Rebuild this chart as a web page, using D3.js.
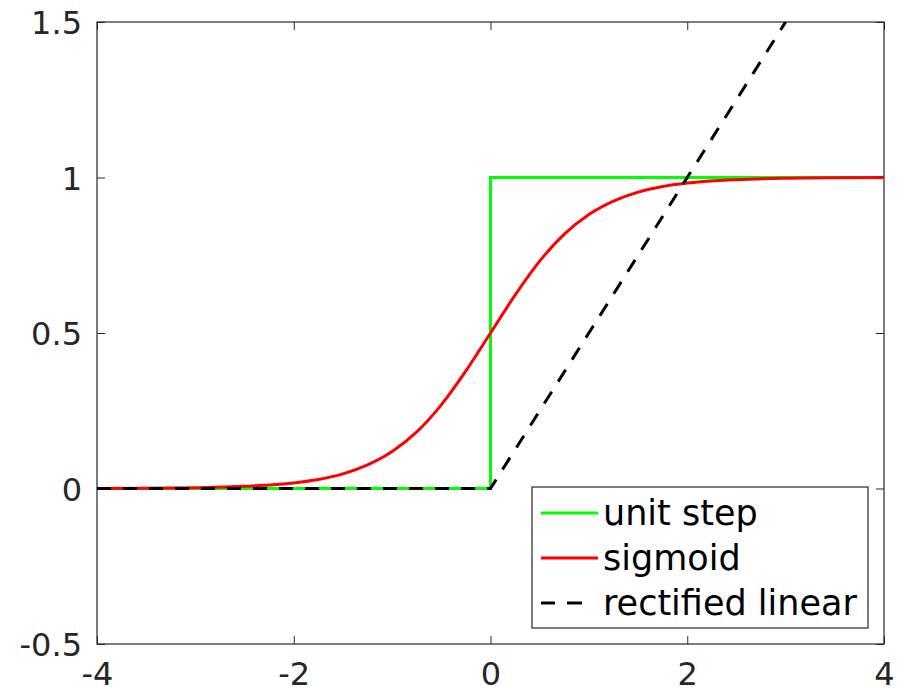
<!DOCTYPE html>
<html lang="en">
<head>
    <meta charset="UTF-8">
    <title>Activation functions</title>
    <style>
        body { margin: 0; background: #fff; }
        svg { display: block; font-family: "DejaVu Sans", sans-serif; }
        .tick text { font-size: 32px; fill: #262626; font-family: "DejaVu Sans", sans-serif; }
        .tick line { stroke: #262626; stroke-width: 1px; }
        .frame { fill: none; stroke: #262626; stroke-width: 1.2px; }
        .clsStep { stroke: #00ff00; stroke-width: 3px; fill: none; }
        .clsSigmoid { stroke: #ff0000; stroke-width: 3px; fill: none; }
        .clsRelu { stroke: #000; stroke-width: 3px; fill: none; stroke-dasharray: 14, 12; }
        .legend .clsRelu { stroke-dasharray: 14, 12, 15, 100; }
        .legend text { font-size: 35px; fill: #000; font-family: "DejaVu Sans", sans-serif; }
    </style>
    <script src="https://d3js.org/d3.v7.min.js"></script>
</head>
<body>
<div class="container"></div>
<script>
    // values
    const xTicks = [-4, -2, 0, 2, 4];
    const xTickLabels = ["-4", "-2", "0", "2", "4"];
    const yTicks = [-0.5, 0, 0.5, 1, 1.5];
    const yTickLabels = ["-0.5", "0", "0.5", "1", "1.5"];

    const stepX = [-4, 0, 0, 4];
    const stepY = [0, 0, 1, 1];

    const sigmoidX = [-4, -3.5, -3, -2.5, -2, -1.75, -1.5, -1.25, -1, -0.75, -0.5, -0.25, 0,
                      0.25, 0.5, 0.75, 1, 1.25, 1.5, 1.75, 2, 2.5, 3, 3.5, 4];
    const sigmoidY = [0.0003, 0.0009, 0.0025, 0.007, 0.018, 0.029, 0.047, 0.076, 0.119, 0.182, 0.269, 0.378, 0.5,
                      0.622, 0.731, 0.818, 0.881, 0.924, 0.953, 0.971, 0.982, 0.993, 0.9975, 0.9991, 0.9997];

    const reluX = [-4, 0, 3];
    const reluY = [0, 0, 1.5];

    const seriesNames = ["unit step", "sigmoid", "rectified linear"];
    const seriesClasses = ["clsStep", "clsSigmoid", "clsRelu"];

    const width = 900, height = 688;
    const margin = {top: 22, right: 16, bottom: 44, left: 97};

    const svg = d3.select(".container")
        .append("svg")
        .attr("width", width)
        .attr("height", height);

    const x = d3.scaleLinear()
        .domain([-4, 4])
        .range([margin.left, width - margin.right]);

    const y = d3.scaleLinear()
        .domain([-0.5, 1.5])
        .range([height - margin.bottom, margin.top]);

    // axes, ticks pointing inwards on all four sides
    svg.append("g")
        .attr("transform", `translate(0, ${y(-0.5)})`)
        .call(d3.axisBottom(x).tickValues(xTicks).tickFormat((d, i) => xTickLabels[i])
            .tickSizeInner(-8).tickSizeOuter(0).tickPadding(18))
        .call(g => g.select(".domain").remove());

    svg.append("g")
        .attr("transform", `translate(0, ${y(1.5)})`)
        .call(d3.axisTop(x).tickValues(xTicks).tickFormat("")
            .tickSizeInner(-8).tickSizeOuter(0))
        .call(g => g.select(".domain").remove());

    svg.append("g")
        .attr("transform", `translate(${x(-4)}, 0)`)
        .call(d3.axisLeft(y).tickValues(yTicks).tickFormat((d, i) => yTickLabels[i])
            .tickSizeInner(-8).tickSizeOuter(0).tickPadding(15))
        .call(g => g.select(".domain").remove())
        .call(g => g.selectAll("text").attr("dy", "0.36em"));

    svg.append("g")
        .attr("transform", `translate(${x(4)}, 0)`)
        .call(d3.axisRight(y).tickValues(yTicks).tickFormat("")
            .tickSizeInner(-8).tickSizeOuter(0))
        .call(g => g.select(".domain").remove());

    svg.append("rect")
        .attr("class", "frame")
        .attr("x", x(-4))
        .attr("y", y(1.5))
        .attr("width", x(4) - x(-4))
        .attr("height", y(-0.5) - y(1.5));

    svg.append("clipPath").attr("id", "plotClip")
        .append("rect")
        .attr("x", x(-4))
        .attr("y", y(1.5))
        .attr("width", x(4) - x(-4))
        .attr("height", y(-0.5) - y(1.5));

    const chart = svg.append("g").attr("clip-path", "url(#plotClip)");

    const toPoints = (xs, ys) => xs.map((v, i) => [v, ys[i]]);

    const line = d3.line()
        .x(d => x(d[0]))
        .y(d => y(d[1]));

    chart.append("path")
        .datum(toPoints(stepX, stepY))
        .attr("class", "clsStep")
        .attr("d", line);

    chart.append("path")
        .datum(toPoints(sigmoidX, sigmoidY))
        .attr("class", "clsSigmoid")
        .attr("d", line.curve(d3.curveMonotoneX));

    chart.append("path")
        .datum(toPoints(reluX, reluY))
        .attr("class", "clsRelu")
        .attr("d", line.curve(d3.curveLinear));

    // legend box in the lower right
    const legend = svg.append("g")
        .attr("class", "legend")
        .attr("transform", "translate(532, 487)");

    legend.append("rect")
        .attr("class", "frame")
        .attr("width", 336)
        .attr("height", 141)
        .style("fill", "#fff");

    seriesNames.forEach((name, i) => {
        legend.append("line")
            .attr("class", seriesClasses[i])
            .attr("x1", 9)
            .attr("x2", 66)
            .attr("y1", 26 + i * 45)
            .attr("y2", 26 + i * 45);
        legend.append("text")
            .attr("x", 71)
            .attr("y", 38 + i * 45)
            .text(name);
    });
</script>
</body>
</html>
